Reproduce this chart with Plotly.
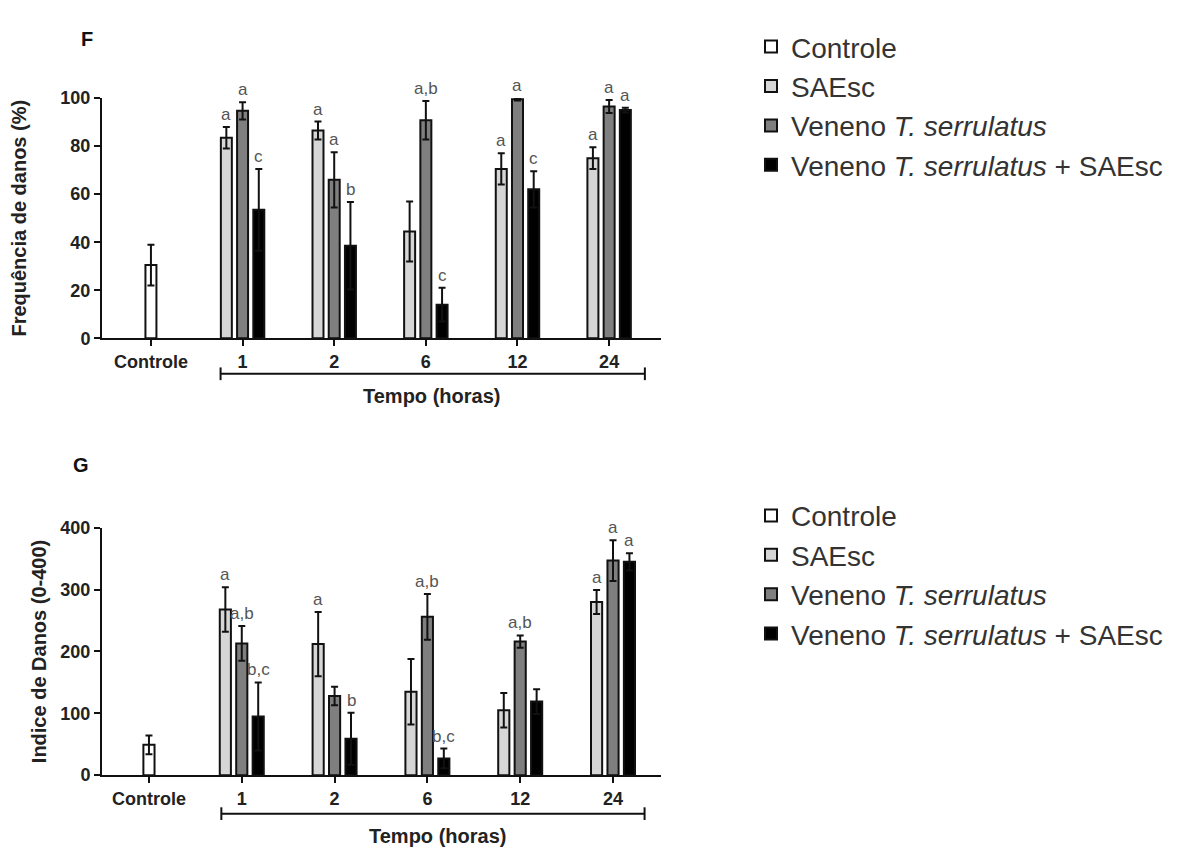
import plotly.graph_objects as go

# ---------------- data ----------------
categories = ["Controle", "1", "2", "6", "12", "24"]
times = ["1", "2", "6", "12", "24"]
series_names = ["Controle", "SAEsc", "Veneno <i>T. serrulatus</i>",
                "Veneno <i>T. serrulatus</i> + SAEsc"]

# Panel F - Frequência de danos (%)
f_ctrl = [30.5]
f_ctrl_err = [8.5]
f_saesc = [83.5, 86.5, 44.5, 70.5, 75.0]
f_saesc_err = [4.5, 3.7, 12.5, 6.5, 4.5]
f_ven = [94.7, 66.0, 90.8, 99.5, 96.5]
f_ven_err = [3.6, 11.5, 8.0, 0.5, 2.7]
f_vs = [53.5, 38.5, 14.0, 62.0, 95.0]
f_vs_err = [17.0, 18.2, 7.0, 7.5, 1.0]
f_saesc_lbl = ["a", "a", "", "a", "a"]
f_ven_lbl = ["a", "a", "a,b", "a", "a"]
f_vs_lbl = ["c", "b", "c", "c", "a"]

# Panel G - Indice de Danos (0-400)
g_ctrl = [49]
g_ctrl_err = [15]
g_saesc = [268, 212, 135, 105, 280]
g_saesc_err = [36, 52, 53, 28, 19.5]
g_ven = [213, 128, 256, 216, 347]
g_ven_err = [28, 15, 37, 10, 33]
g_vs = [95, 59, 27, 119, 345]
g_vs_err = [55, 42, 16, 20, 14]
g_saesc_lbl = ["a", "a", "", "", "a"]
g_ven_lbl = ["a,b", "", "a,b", "a,b", "a"]
g_vs_lbl = ["b,c", "b", "b,c", "", "a"]

# ---------------- style / geometry helpers ----------------
FONT = "Liberation Sans, Arial, sans-serif"
W, H, OFF = 1203, 855, 8          # OFF: page body margin


def px(x):
    return (x - OFF) / W


def py(y):
    return 1 - (y - OFF) / H


colors = ["#ffffff", "#d6d6d6", "#7f7f7f", "#000000"]
bar_w = 0.12
centers = [0.0, -0.177, 0.0, 0.177]

fig = go.Figure()


def add_panel(ctrl, ctrl_err, s_list, e_list, lbl_list, xa, ya, legend):
    data = [(["Controle"], ctrl, ctrl_err)] + [(times, s, e) for s, e in zip(s_list, e_list)]
    for i, (xs, ys, es) in enumerate(data):
        fig.add_trace(go.Bar(
            x=xs, y=ys, name=series_names[i],
            width=bar_w, offset=centers[i] - bar_w / 2,
            marker=dict(color=colors[i], line=dict(color="#111111", width=2)),
            error_y=dict(type="data", array=es, symmetric=True, color="#111111",
                         thickness=2, width=3.5),
            cliponaxis=False, xaxis=xa, yaxis=ya, legend=legend,
            hoverinfo="x+y",
        ))
    for k, (ys, es, lbls) in enumerate(zip(s_list, e_list, lbl_list)):
        for t, v, e, l in zip(times, ys, es, lbls):
            if not l:
                continue
            fig.add_annotation(
                x=categories.index(t) + centers[k + 1], y=v + e,
                xref=xa, yref=ya, text=l, showarrow=False,
                xanchor="center", yanchor="bottom", yshift=1,
                font=dict(family=FONT, size=17, color="#555555"),
            )


add_panel(f_ctrl, f_ctrl_err, [f_saesc, f_ven, f_vs], [f_saesc_err, f_ven_err, f_vs_err],
          [f_saesc_lbl, f_ven_lbl, f_vs_lbl], "x", "y", "legend")
add_panel(g_ctrl, g_ctrl_err, [g_saesc, g_ven, g_vs], [g_saesc_err, g_ven_err, g_vs_err],
          [g_saesc_lbl, g_ven_lbl, g_vs_lbl], "x2", "y2", "legend2")

axis_common = dict(showline=True, linewidth=2, linecolor="#111111", ticks="outside",
                   ticklen=6, tickwidth=2, tickcolor="#111111", showgrid=False,
                   zeroline=False,
                   tickfont=dict(family=FONT, size=18, color="#222222", weight="bold"))

xdom = [px(102), px(661)]
legend_font = dict(family=FONT, size=28, color="#333333")
fig.update_layout(
    width=W, height=H,
    margin=dict(l=0, r=0, t=0, b=0),
    paper_bgcolor="white", plot_bgcolor="white",
    barmode="overlay",
    font=dict(family=FONT, color="#222222"),
    xaxis=dict(domain=xdom, type="category", categoryorder="array",
               categoryarray=categories, range=[-0.534, 5.566], anchor="y",
               **axis_common),
    yaxis=dict(domain=[py(336), py(90)], range=[0, 100],
               tickvals=[0, 20, 40, 60, 80, 100], anchor="x",
               title=dict(text="Frequência de danos (%)", standoff=30,
                          font=dict(family=FONT, size=20, color="#222222", weight="bold")),
               **axis_common),
    xaxis2=dict(domain=xdom, type="category", categoryorder="array",
                categoryarray=categories, range=[-0.506, 5.517], anchor="y2",
                **axis_common),
    yaxis2=dict(domain=[py(783.3), py(530)], range=[0, 400],
                tickvals=[0, 100, 200, 300, 400], anchor="x2",
                title=dict(text="Indice de Danos (0-400)", standoff=8,
                           font=dict(family=FONT, size=20, color="#222222", weight="bold")),
                **axis_common),
    legend=dict(x=px(751), y=py(12), xanchor="left", yanchor="top",
                font=legend_font, bgcolor="rgba(0,0,0,0)", traceorder="normal"),
    legend2=dict(x=px(751), y=py(492), xanchor="left", yanchor="top",
                 font=legend_font, bgcolor="rgba(0,0,0,0)", traceorder="normal"),
    showlegend=True,
)

# "Tempo (horas)" brackets
for xa, x0, x1, ypx in [("x", 0.76, 5.39, 372.3), ("x2", 0.78, 5.34, 822.7)]:
    yc = py(ypx)
    cap = 6.5 / H
    line = dict(color="#111111", width=2)
    fig.add_shape(type="line", xref=xa, yref="paper", x0=x0, x1=x1, y0=yc, y1=yc, line=line)
    fig.add_shape(type="line", xref=xa, yref="paper", x0=x0, x1=x0, y0=yc - cap, y1=yc + cap, line=line)
    fig.add_shape(type="line", xref=xa, yref="paper", x0=x1, x1=x1, y0=yc - cap, y1=yc + cap, line=line)

for xpx, ypx in [(431, 395), (437, 846)]:
    fig.add_annotation(x=px(xpx), y=py(ypx), xref="paper", yref="paper",
                       text="Tempo (horas)", showarrow=False,
                       xanchor="center", yanchor="middle",
                       font=dict(family=FONT, size=20, color="#222222", weight="bold"))

# Panel letters
for txt, xpx, ypx in [("F", 87, 30), ("G", 81, 466)]:
    fig.add_annotation(x=px(xpx), y=py(ypx), xref="paper", yref="paper",
                       text=txt, showarrow=False, xanchor="center", yanchor="middle",
                       font=dict(family=FONT, size=20, color="#111111", weight="bold"))

fig.write_html("out.html")
